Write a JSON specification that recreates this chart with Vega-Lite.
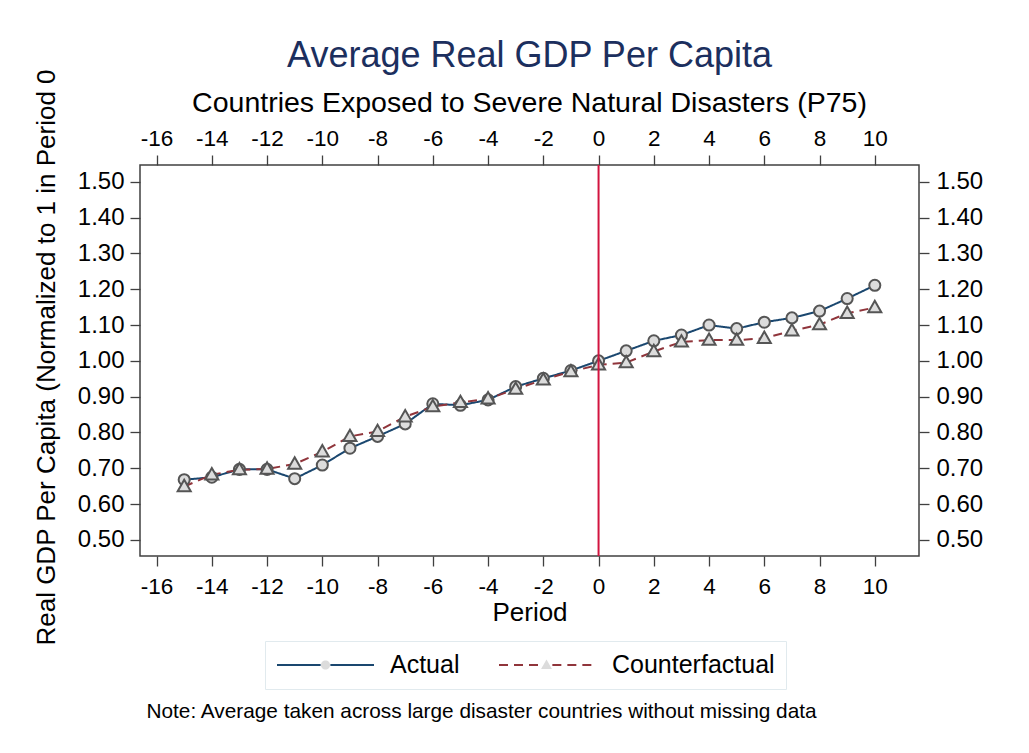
{
  "$schema": "https://vega.github.io/schema/vega-lite/v6.json",
  "width": 779,
  "height": 391,
  "autosize": {"type": "none"},
  "padding": {"left": 140, "top": 165, "right": 110, "bottom": 197},
  "background": "white",
  "config": {
    "font": "Liberation Sans",
    "view": {"stroke": "#404040", "strokeWidth": 1.5},
    "axis": {"grid": false, "domain": false, "tickColor": "#404040", "tickWidth": 1.3, "tickSize": 10, "labelColor": "black", "titleColor": "black", "titleFontWeight": "normal", "labelFont": "Liberation Sans", "titleFont": "Liberation Sans", "labelFlush": false, "labelOverlap": false}
  },
  "title": {
    "text": "Average Real GDP Per Capita",
    "subtitle": "Countries Exposed to Severe Natural Disasters (P75)",
    "frame": "group",
    "anchor": "middle",
    "font": "Liberation Sans",
    "subtitleFont": "Liberation Sans",
    "fontSize": 36,
    "fontWeight": "normal",
    "color": "#1c2f5e",
    "subtitleFontSize": 28.5,
    "subtitleColor": "black",
    "subtitlePadding": 14,
    "offset": -50
  },
  "datasets": {
    "gdp": [
      {"period": -15, "series": "Actual", "value": 0.668},
      {"period": -14, "series": "Actual", "value": 0.675},
      {"period": -13, "series": "Actual", "value": 0.697},
      {"period": -12, "series": "Actual", "value": 0.697},
      {"period": -11, "series": "Actual", "value": 0.671},
      {"period": -10, "series": "Actual", "value": 0.709},
      {"period": -9, "series": "Actual", "value": 0.756},
      {"period": -8, "series": "Actual", "value": 0.789},
      {"period": -7, "series": "Actual", "value": 0.824},
      {"period": -6, "series": "Actual", "value": 0.880},
      {"period": -5, "series": "Actual", "value": 0.876},
      {"period": -4, "series": "Actual", "value": 0.891},
      {"period": -3, "series": "Actual", "value": 0.928},
      {"period": -2, "series": "Actual", "value": 0.951},
      {"period": -1, "series": "Actual", "value": 0.973},
      {"period": 0, "series": "Actual", "value": 1.000},
      {"period": 1, "series": "Actual", "value": 1.028},
      {"period": 2, "series": "Actual", "value": 1.056},
      {"period": 3, "series": "Actual", "value": 1.072},
      {"period": 4, "series": "Actual", "value": 1.100},
      {"period": 5, "series": "Actual", "value": 1.090},
      {"period": 6, "series": "Actual", "value": 1.108},
      {"period": 7, "series": "Actual", "value": 1.120},
      {"period": 8, "series": "Actual", "value": 1.139},
      {"period": 9, "series": "Actual", "value": 1.174},
      {"period": 10, "series": "Actual", "value": 1.211},
      {"period": -15, "series": "Counterfactual", "value": 0.649},
      {"period": -14, "series": "Counterfactual", "value": 0.682},
      {"period": -13, "series": "Counterfactual", "value": 0.696},
      {"period": -12, "series": "Counterfactual", "value": 0.698},
      {"period": -11, "series": "Counterfactual", "value": 0.712},
      {"period": -10, "series": "Counterfactual", "value": 0.746},
      {"period": -9, "series": "Counterfactual", "value": 0.789},
      {"period": -8, "series": "Counterfactual", "value": 0.803},
      {"period": -7, "series": "Counterfactual", "value": 0.844},
      {"period": -6, "series": "Counterfactual", "value": 0.872},
      {"period": -5, "series": "Counterfactual", "value": 0.884},
      {"period": -4, "series": "Counterfactual", "value": 0.894},
      {"period": -3, "series": "Counterfactual", "value": 0.921},
      {"period": -2, "series": "Counterfactual", "value": 0.947},
      {"period": -1, "series": "Counterfactual", "value": 0.970},
      {"period": 0, "series": "Counterfactual", "value": 0.989},
      {"period": 1, "series": "Counterfactual", "value": 0.995},
      {"period": 2, "series": "Counterfactual", "value": 1.026},
      {"period": 3, "series": "Counterfactual", "value": 1.053},
      {"period": 4, "series": "Counterfactual", "value": 1.058},
      {"period": 5, "series": "Counterfactual", "value": 1.058},
      {"period": 6, "series": "Counterfactual", "value": 1.063},
      {"period": 7, "series": "Counterfactual", "value": 1.084},
      {"period": 8, "series": "Counterfactual", "value": 1.101},
      {"period": 9, "series": "Counterfactual", "value": 1.133},
      {"period": 10, "series": "Counterfactual", "value": 1.149}
    ],
    "event": [{"period": 0}]
  },
  "resolve": {"axis": {"x": "independent", "y": "independent"}},
  "layer": [
    {
      "data": {"name": "gdp"},
      "mark": {"type": "line", "strokeWidth": 2},
      "encoding": {
        "x": {
          "field": "period", "type": "quantitative",
          "scale": {"domain": [-16.6, 11.6], "nice": false, "zero": false},
          "axis": {"orient": "bottom", "values": [-16, -14, -12, -10, -8, -6, -4, -2, 0, 2, 4, 6, 8, 10], "labelExpr": "datum.value < 0 ? '-' + abs(datum.value) : '' + datum.value", "title": "Period", "labelFontSize": 22.5, "labelPadding": 9, "titleFontSize": 26, "titlePadding": 2}
        },
        "y": {
          "field": "value", "type": "quantitative",
          "scale": {"domain": [0.455, 1.547], "nice": false, "zero": false},
          "axis": {"orient": "left", "values": [0.5, 0.6, 0.7, 0.8, 0.9, 1.0, 1.1, 1.2, 1.3, 1.4, 1.5], "format": ".2f", "labelFontSize": 24, "labelPadding": 6, "title": "Real GDP Per Capita (Normalized to 1 in Period 0", "titleFontSize": 26, "titleX": -86, "titleY": 192, "titleAngle": -90, "titleAlign": "center", "titleBaseline": "alphabetic"}
        },
        "color": {
          "field": "series", "type": "nominal",
          "scale": {"range": ["#1a476f", "#90353b"]},
          "legend": {"orient": "none", "legendX": 125, "legendY": 476, "direction": "horizontal", "title": null, "symbolType": "M-1,0L-0.1,0M0.1,0L1,0", "symbolSize": 9409, "symbolStrokeWidth": 2, "symbolFillColor": "transparent", "labelFontSize": 25, "labelFont": "Liberation Sans", "labelColor": "black", "labelOffset": 15, "labelLimit": 400, "columnPadding": 38, "padding": 11, "clipHeight": 26, "strokeColor": "#e1eaee", "fillColor": null}
        },
        "strokeDash": {
          "field": "series", "type": "nominal",
          "scale": {"range": [[1, 0], [9, 6]]},
          "legend": {"orient": "none", "legendX": 125, "legendY": 476, "direction": "horizontal", "title": null, "symbolType": "M-1,0L-0.1,0M0.1,0L1,0", "symbolSize": 9409, "symbolStrokeWidth": 2, "symbolFillColor": "transparent", "labelFontSize": 25, "labelFont": "Liberation Sans", "labelColor": "black", "labelOffset": 15, "labelLimit": 400, "columnPadding": 38, "padding": 11, "clipHeight": 26, "strokeColor": "#e1eaee", "fillColor": null}
        }
      }
    },
    {
      "data": {"name": "gdp"},
      "mark": {"type": "point", "filled": true, "fill": "#dcdcdc", "stroke": "#555555", "strokeWidth": 2, "opacity": 1, "size": 13572},
      "encoding": {
        "x": {
          "field": "period", "type": "quantitative",
          "axis": {"orient": "top", "values": [-16, -14, -12, -10, -8, -6, -4, -2, 0, 2, 4, 6, 8, 10], "labelExpr": "datum.value < 0 ? '-' + abs(datum.value) : '' + datum.value", "title": null, "labelFontSize": 22.5, "labelPadding": 5}
        },
        "y": {
          "field": "value", "type": "quantitative",
          "axis": {"orient": "right", "values": [0.5, 0.6, 0.7, 0.8, 0.9, 1.0, 1.1, 1.2, 1.3, 1.4, 1.5], "format": ".2f", "labelFontSize": 24, "labelPadding": 7, "title": null}
        },
        "shape": {
          "field": "series", "type": "nominal",
          "scale": {"domain": ["Actual", "Counterfactual"], "range": ["M-0.095,0A0.095,0.095 0 1,0 0.095,0A0.095,0.095 0 1,0 -0.095,0Z", "M0,-0.115L0.112,0.08L-0.112,0.08Z"]},
          "legend": {"orient": "none", "legendX": 125, "legendY": 476, "direction": "horizontal", "title": null, "symbolSize": 9409, "symbolStrokeWidth": 1.5, "symbolFillColor": "#dcdcdc", "symbolStrokeColor": "#555555", "labelFontSize": 25, "labelFont": "Liberation Sans", "labelExpr": "''", "labelOffset": 0, "labelLimit": 400, "columnPadding": 122, "padding": 11, "clipHeight": 26, "strokeColor": null, "fillColor": null,
            "encode": {"symbols": {"stroke": {"value": "#555555"}, "strokeWidth": {"value": 1.5}, "fill": {"value": "#dcdcdc"}, "opacity": {"value": 1}}}}
        }
      }
    },
    {
      "data": {"name": "event"},
      "mark": {"type": "rule", "color": "#d2143f", "strokeWidth": 2},
      "encoding": {
        "x": {
          "field": "period", "type": "quantitative",
          "axis": {"orient": "bottom", "labels": false, "ticks": false, "domain": false, "title": "Note: Average taken across large disaster countries without missing data", "titleFontSize": 20.8, "titleX": 6, "titleY": 161, "titleAnchor": "start", "titleAlign": "left", "titleBaseline": "alphabetic"}
        }
      }
    }
  ]
}
